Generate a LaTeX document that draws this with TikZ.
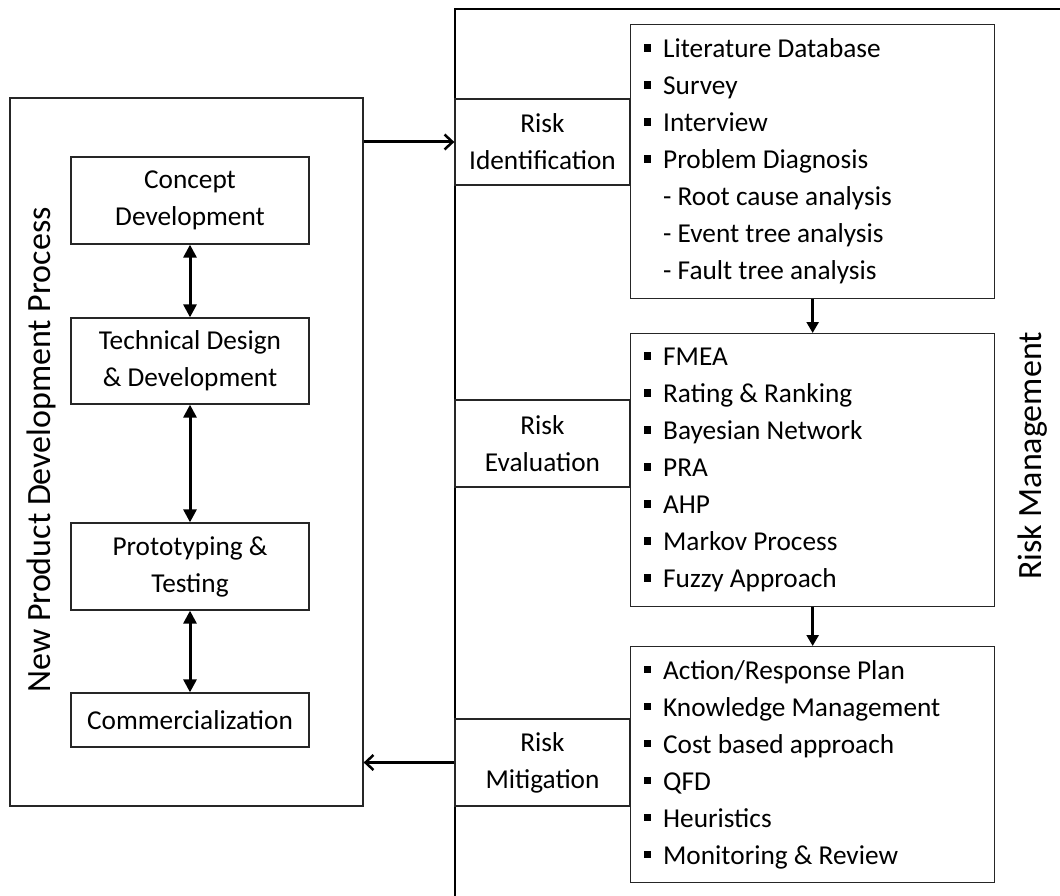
\documentclass[tikz,border=0pt]{standalone}
\usepackage{fontspec}
\setmainfont{Carlito}
\usetikzlibrary{arrows.meta, positioning}

\newcommand{\bul}{\rule[6pt]{7.5pt}{7.5pt}\hspace{12pt}}
\newcommand{\subitm}{\hspace*{19.5pt}- }

\begin{document}
\begin{tikzpicture}[
    x=1pt, y=-1pt,
    txt/.style={font=\fontsize{27.3pt}{37pt}\selectfont},
    big/.style={font=\fontsize{34pt}{40pt}\selectfont},
    box/.style={rectangle, draw=black!85, line width=1.3pt, align=center, txt, inner sep=0pt},
    stage/.style={box, minimum width=238pt, minimum height=87pt},
    cell/.style={box, minimum width=175pt, minimum height=87pt},
    list/.style={box, anchor=north west, align=flush left, text width=338pt, inner xsep=13pt},
    harrow/.style={-{Straight Barb[length=8pt, width=15pt, line width=2.5pt]}, line width=3pt},
    dbl/.style={{Triangle[length=13pt, width=13pt]}-{Triangle[length=13pt, width=13pt]}, line width=3pt},
    down/.style={-{Triangle[length=11pt, width=12pt]}, line width=2.5pt}
]
\useasboundingbox (0,0) rectangle (1060,896);
\clip (0,0) rectangle (1060,896);

\draw[line width=1.6pt] (1080,9) -- (455,9) -- (455,916);

\node[box, minimum width=353pt, minimum height=708pt] (npd) at (186.5,452) {};
\node[big, rotate=90] (npdlab) at (41,450) {New Product Development Process};

\node[stage] (cd) at (190,200.5) {Concept\\Development};
\node[stage, minimum height=86pt] (tdd) at (190,361) {Technical Design\\\& Development};
\node[stage] (pt) at (190,566.5) {Prototyping \&\\Testing};
\node[stage, minimum height=54pt] (com) at (190,720) {Commercialization};

\node[cell, minimum height=86pt] (rid) at (542.5,142) {Risk\\Identification};
\node[cell] (rev) at (542.5,443.5) {Risk\\Evaluation};
\node[cell] (rmit) at (542.5,762.5) {Risk\\Mitigation};

\node[list, minimum height=274pt] (idl) at (630,24) {\bul Literature Database\\
    \bul Survey\\
    \bul Interview\\
    \bul Problem Diagnosis\\
    \subitm Root cause analysis\\
    \subitm Event tree analysis\\
    \subitm Fault tree analysis};
\node[list, minimum height=273pt] (evl) at (630,333) {\bul FMEA\\
    \bul Rating \& Ranking\\
    \bul Bayesian Network\\
    \bul PRA\\
    \bul AHP\\
    \bul Markov Process\\
    \bul Fuzzy Approach};
\node[list, minimum height=236pt] (mil) at (630,646) {\bul Action/Response Plan\\
    \bul Knowledge Management\\
    \bul Cost based approach\\
    \bul QFD\\
    \bul Heuristics\\
    \bul Monitoring \& Review};

\node[big, rotate=90] (rmlab) at (1033,456) {Risk Management};

\draw[dbl] (cd) -- (tdd);
\draw[dbl] (tdd) -- (pt);
\draw[dbl] (pt) -- (com);

\draw[down] (idl) -- (evl);
\draw[down] (evl) -- (mil);

\draw[harrow] (rid.west -| npd.east) -- (rid.west);
\draw[harrow] (rmit.west) -- (rmit.west -| npd.east);
\end{tikzpicture}
\end{document}
